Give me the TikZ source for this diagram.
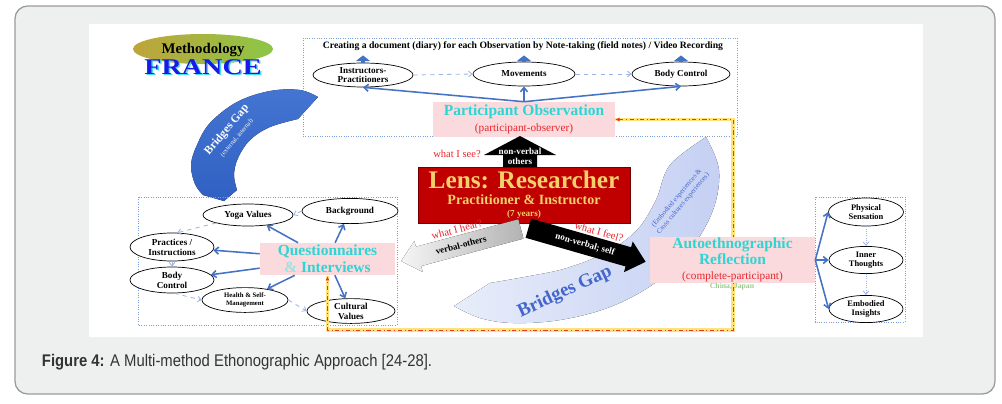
\documentclass[tikz,border=0pt]{standalone}
\usepackage{fontspec}
\setmainfont{Liberation Serif}
\newfontfamily\capfont{Liberation Sans}
\usetikzlibrary{arrows.meta, positioning, calc, shapes.geometric}
\definecolor{pagegray}{HTML}{EEF0EF}
\definecolor{framegray}{HTML}{9A9A9A}
\definecolor{dotblue}{HTML}{7A9FDF}
\definecolor{linkblue}{HTML}{4472C4}
\definecolor{softblue}{HTML}{9CB4E6}
\definecolor{boxpink}{HTML}{FADADD}
\definecolor{headcyan}{HTML}{2DD5D5}
\definecolor{ampcyan}{HTML}{9BE3E3}
\definecolor{askred}{HTML}{E8262C}
\definecolor{lensred}{HTML}{C00000}
\definecolor{lensgold}{HTML}{F2D06B}
\definecolor{franceblue}{HTML}{1A1AE6}
\definecolor{francecyan}{HTML}{40E0F0}
\definecolor{methleft}{HTML}{BFA43A}
\definecolor{methright}{HTML}{8CC646}
\definecolor{arctop}{HTML}{4475D2}
\definecolor{arcbottom}{HTML}{3060C2}
\definecolor{crescL}{HTML}{E8EDFA}
\definecolor{crescM}{HTML}{93A8E6}
\definecolor{crescR}{HTML}{C5D0F3}
\definecolor{gaptext}{HTML}{4466CC}
\definecolor{chinagreen}{HTML}{9BCB8F}
\definecolor{linered}{HTML}{E23B2B}
\definecolor{lineyellow}{HTML}{FFE37A}
\definecolor{captext}{HTML}{333333}

\begin{document}
\begin{tikzpicture}[x=0.025cm, y=-0.025cm,
    ell/.style={ellipse, draw=black, line width=0.5pt, fill=white, inner sep=0pt,
      align=center, font=\bfseries\fontsize{6.5}{7}\selectfont},
    pinkbox/.style={fill=boxpink, inner sep=0pt, align=center},
    dotbox/.style={draw=dotblue, densely dotted, line width=0.7pt},
    link/.style={draw=linkblue, line width=1.1pt, -{Straight Barb[length=3pt,width=5pt]}},
    soft/.style={draw=softblue, dashed, line width=0.6pt, -{Straight Barb[length=2.5pt,width=4pt]}},
    lift/.style={draw=linkblue, line width=3pt, -{Triangle[length=4pt,width=10pt]}},
    ask/.style={text=askred, font=\fontsize{7.5}{8}\selectfont},
    cue/.style={font=\bfseries\fontsize{6.5}{7}\selectfont}]
  \useasboundingbox (0,0) rectangle (1002,403);
  \fill[white] (0,0) rectangle (1002,403);
  \draw[fill=pagegray, draw=framegray, line width=0.9pt, rounded corners=9pt] (15,6) rectangle (995,394);
  \fill[white] (89,24) rectangle (923,337);

  \node (meth) [ellipse, minimum width=3.5cm, minimum height=0.75cm, inner sep=0pt,
    left color=methleft, right color=methright] at (203,49) {};
  \node (methtxt) [font=\bfseries\fontsize{10.5}{11}\selectfont] at (203,50) {Methodology};
  \node (frshadow) [text=francecyan, font=\bfseries\fontsize{20}{20}\selectfont] at (204.5,68.5) {\scalebox{1}[0.8]{FRANCE}};
  \node (fr) [text=franceblue, font=\bfseries\fontsize{20}{20}\selectfont] at (203,67) {\scalebox{1}[0.8]{FRANCE}};

  \draw[dotbox] (303,38) rectangle (737,136);
  \node (ttl) [font=\bfseries\fontsize{6.9}{7}\selectfont] at (523,46)
    {Creating a document (diary) for each Observation by Note-taking (field notes) / Video Recording};
  \node (ip) [ell, minimum width=2.5cm, minimum height=0.6cm] at (363,75) {Instructors-\\Practitioners};
  \node (mv) [ell, minimum width=2.55cm, minimum height=0.6cm] at (524,74) {Movements};
  \node (bcn) [ell, minimum width=2.45cm, minimum height=0.6cm] at (681,74) {Body Control};
  \node (pobs) [pinkbox, minimum width=4.55cm, minimum height=0.875cm] at (524,119.5)
    {{\color{headcyan}\bfseries\fontsize{11}{12}\selectfont Participant Observation}\\[-1pt]
     {\color{askred}\fontsize{8}{9}\selectfont (participant-observer)}};
  \draw[lift] (ip.north) -- (ip.north |- ttl.south);
  \draw[lift] (mv.north) -- (mv.north |- ttl.south);
  \draw[lift] (bcn.north) -- (bcn.north |- ttl.south);
  \draw[soft] (ip.east) -- (mv.west);
  \draw[soft] (mv.east) -- (bcn.west);
  \draw[link] (pobs.north) -- (ip.south);
  \draw[link] (pobs.north) -- (mv.south);
  \draw[link] (pobs.north) -- (bcn.south);

  \fill[top color=arctop, bottom color=arcbottom]
    plot[smooth, tension=0.6] coordinates {(318,97) (300,90) (270,91) (237,102) (210,123) (197,145) (191,165) (195,184) (203,195)}
    -- (224,201)
    -- plot[smooth, tension=0.6] coordinates {(237,190) (234,175) (238,158) (250,140) (270,127) (298,119)}
    -- cycle;
  \node (gapl) [rotate=50, text=white, font=\bfseries\fontsize{8.2}{9}\selectfont] at (227,130) {Bridges Gap};
  \node (gapls) [rotate=50, text=white, font=\fontsize{4.5}{5}\selectfont] at (237,138) {(external, internal)};

  \fill[left color=crescL, middle color=crescM, right color=crescR]
    plot[smooth, tension=0.6] coordinates {(706,137) (719,170) (713,210) (690,250) (655,283) (610,307) (560,320) (513,323) (480,318) (454,306)}
    -- plot[smooth, tension=0.6] coordinates {(490,283) (530,276) (567,268) (607,252) (637,230) (656,200) (670,165) (706,137)}
    -- cycle;
  \node (gapr) [rotate=25, text=gaptext, font=\bfseries\fontsize{13.5}{14}\selectfont] at (565,292) {Bridges Gap};
  \node (gaprs) [rotate=50, text=gaptext, align=center, font=\fontsize{5}{6}\selectfont] at (680,201)
    {(Embodied experiences \&\\Cross cultures experiences)};

  \draw[dotbox] (138,197) rectangle (397,325);
  \node (yv) [ell, minimum width=2.25cm, minimum height=0.55cm] at (248,215) {Yoga Values};
  \node (bg) [ell, minimum width=2.4cm, minimum height=0.63cm] at (350,211) {Background};
  \node (pi) [ell, minimum width=2.1cm, minimum height=0.7cm] at (172,247) {Practices /\\Instructions};
  \node (bc) [ell, minimum width=2.1cm, minimum height=0.65cm] at (172,280) {Body\\Control};
  \node (hs) [ell, minimum width=2.15cm, minimum height=0.62cm, font=\bfseries\fontsize{4.8}{5.5}\selectfont]
    at (245,300) {Health \& Self-\\Management};
  \node (cv) [ell, minimum width=2.2cm, minimum height=0.62cm] at (351,311) {Cultural\\Values};
  \node (qi) [pinkbox, minimum width=3.375cm, minimum height=0.8cm, font=\bfseries\fontsize{11}{12}\selectfont]
    at (327.5,259) {{\color{headcyan}Questionnaires}\\{\color{ampcyan}\&} {\color{headcyan}Interviews}};
  \draw[link] (qi) -- (yv);
  \draw[link] (qi) -- (pi);
  \draw[link] (qi) -- (bc);
  \draw[link] (qi) -- (hs);
  \draw[link] (qi) -- (bg);
  \draw[link] (qi) -- (cv);
  \draw[soft] (bg.west) -- (yv.east);
  \draw[soft] (yv.south west) -- (pi.70);
  \draw[soft] (pi.south) -- (bc.north);
  \draw[soft] (bc.-80) -- (hs.west);
  \draw[soft] (hs.east) -- (cv.west);

  \draw[dotbox] (815,197) rectangle (905,322);
  \node (ps) [ell, minimum width=1.875cm, minimum height=0.7cm, font=\bfseries\fontsize{6}{6.5}\selectfont]
    at (866,212) {Physical\\Sensation};
  \node (it) [ell, minimum width=1.85cm, minimum height=0.68cm, font=\bfseries\fontsize{6}{6.5}\selectfont]
    at (866,260) {Inner\\Thoughts};
  \node (ei) [ell, minimum width=1.85cm, minimum height=0.68cm, font=\bfseries\fontsize{6}{6.5}\selectfont]
    at (866,309) {Embodied\\Insights};
  \draw[soft, densely dotted] (ps.south) -- (it.north);
  \draw[soft, densely dotted] (it.south) -- (ei.north);

  \node (qibase) [inner sep=0pt] at (qi.south) {};
  \coordinate (lo1) at (733,119.5);
  \coordinate (lo2) at (733,330);
  \coordinate (lo3) at (327.5,330);
  \draw[lineyellow, line width=2.4pt] (pobs.east) -- (lo1) -- (lo2) -- (lo3) -- (qibase);
  \draw[linered, dash dot, line width=0.6pt, {Latex[length=3pt,width=3pt]}-{Latex[length=3pt,width=3pt]}]
    (pobs.east) -- (lo1) -- (lo2) -- (lo3) -- (qibase);

  \node (ae) [pinkbox, minimum width=4.125cm, minimum height=1.15cm] at (732.5,260)
    {{\color{headcyan}\bfseries\fontsize{11}{10}\selectfont Autoethnographic}\\[-1pt]
     {\color{headcyan}\bfseries\fontsize{11}{10}\selectfont Reflection}\\[-1pt]
     {\color{askred}\fontsize{8}{9}\selectfont (complete-participant)}};
  \node (cj) [text=chinagreen, font=\bfseries\fontsize{5.5}{6}\selectfont] at (732,287) {China, Japan};
  \draw[link] (ae.east) -- (ps.west);
  \draw[link] (ae.east) -- (it.west);
  \draw[link] (ae.east) -- (ei.west);

  \node (lens) [fill=lensred, draw=lensred!60!black, line width=0.4pt, minimum width=5.3cm,
    minimum height=1.4cm, inner sep=0pt, align=center, text=lensgold, font=\bfseries] at (524,195)
    {{\fontsize{18}{19}\selectfont Lens: Researcher}\\[-1pt]
     {\fontsize{10}{11}\selectfont Practitioner \& Instructor}\\[-3pt]
     {\fontsize{6.5}{7}\selectfont (7 years)}};
  \fill[black] (503,167) -- (503,155) -- (484,155) -- (520,136) -- (556,155) -- (537,155) -- (537,167) -- cycle;
  \node (seecue) [cue, text=white, align=center] at (520,156) {non-verbal\\others};
  \node (see) [ask] at (457,154) {what I see?};

  \begin{scope}[shift={(461,245)}, rotate=15]
    \fill[left color=gray!8, right color=gray!60]
      (62,-10) -- (-44,-10) -- (-44,-16) -- (-62,0) -- (-44,16) -- (-44,10) -- (62,10) -- cycle;
    \node (hearcue) [cue, rotate=15] at (0,0) {verbal-others};
    \node (hear) [ask, rotate=15] at (0,-16) {what I hear?};
  \end{scope}
  \begin{scope}[shift={(587,245)}, rotate=-16]
    \fill[black]
      (-61,-10) -- (43,-10) -- (43,-16) -- (61,0) -- (43,16) -- (43,10) -- (-61,10) -- cycle;
    \node (feelcue) [cue, text=white, rotate=-16] at (-2,0) {non-verbal; self};
    \node (feel) [ask, rotate=-16] at (8,-16) {what I feel?};
  \end{scope}

  \node (cap) [anchor=west, text=captext, font=\capfont\fontsize{12}{14}\selectfont] at (37,362)
    {\scalebox{0.88}[1]{\textbf{Figure 4:} A Multi-method Ethonographic Approach [24-28].}};
\end{tikzpicture}
\end{document}
